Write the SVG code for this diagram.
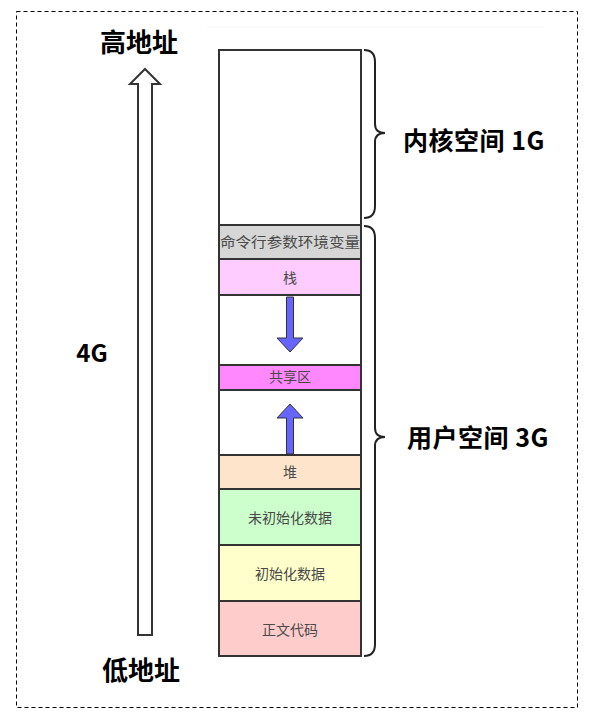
<svg xmlns="http://www.w3.org/2000/svg" width="594" height="719" viewBox="0 0 594 719">
<style>
.seg{stroke:#333;stroke-width:2}
.lbl{font-family:"Noto Sans CJK SC","Noto Sans",sans-serif;font-size:14px;fill:#4a4a4a;text-anchor:middle}
.big{font-family:"Noto Sans CJK SC","Noto Sans",sans-serif;font-weight:bold;fill:#000}
.brace{fill:none;stroke:#222;stroke-width:2}
.blue{fill:#6666ff;stroke:#333;stroke-width:1}
</style>
<rect x="16.5" y="11.5" width="561" height="696" fill="#fff" stroke="#000" stroke-width="1" stroke-dasharray="4,3"/>
<line x1="207" y1="27" x2="544" y2="27" stroke="#f6f6f6" stroke-width="1"/>
<g id="kernel"><rect class="seg" x="219" y="50" width="142" height="175" fill="#fff"/></g>
<g id="env"><rect class="seg" x="219" y="225" width="142" height="34" fill="#d6d6d6"/><text class="lbl" x="290" y="247" font-size="15" textLength="140" lengthAdjust="spacingAndGlyphs">命令行参数环境变量</text></g>
<g id="stack"><rect class="seg" x="219" y="259" width="142" height="36" fill="#ffccff"/><text class="lbl" x="290" y="283">栈</text></g>
<g id="gap1"><rect class="seg" x="219" y="295" width="142" height="70" fill="#fff"/></g>
<g id="shared"><rect class="seg" x="219" y="365" width="142" height="25" fill="#ff88ff"/><text class="lbl" x="290" y="382">共享区</text></g>
<g id="gap2"><rect class="seg" x="219" y="390" width="142" height="65" fill="#fff"/></g>
<g id="heap"><rect class="seg" x="219" y="455" width="142" height="34" fill="#ffe4cc"/><text class="lbl" x="290" y="477">堆</text></g>
<g id="bss"><rect class="seg" x="219" y="489" width="142" height="56" fill="#ccffcc"/><text class="lbl" x="290" y="523">未初始化数据</text></g>
<g id="data"><rect class="seg" x="219" y="545" width="142" height="56" fill="#ffffcc"/><text class="lbl" x="290" y="579">初始化数据</text></g>
<g id="text"><rect class="seg" x="219" y="601" width="142" height="55" fill="#ffcccc"/><text class="lbl" x="290" y="635">正文代码</text></g>
<g id="connectors">
<path class="blue" d="M286.5,297 H293.5 V338 H303 L290,352 L277,338 H286.5 Z"/>
<path class="blue" d="M286.5,454 H293.5 V418 H303 L290,404 L277,418 H286.5 Z"/>
<path d="M138,635 H152 V84 H160 L145,69 L130,84 H138 Z" fill="#fff" stroke="#333" stroke-width="2"/>
<path class="brace" d="M364,50 Q375,50 375,62 V124 Q375,133 385,133 Q375,133 375,142 V206 Q375,218 364,218"/>
<path class="brace" d="M364,226 Q375,226 375,238 V428 Q375,437 385,437 Q375,437 375,446 V644 Q375,656 364,656"/>
</g>
<g id="labels">
<text class="big" x="139" y="52" font-size="26" text-anchor="middle">高地址</text>
<text class="big" x="141" y="680" font-size="26" text-anchor="middle">低地址</text>
<text class="big" x="92" y="362" font-size="24" text-anchor="middle">4G</text>
<text class="big" x="403" y="150" font-size="25" letter-spacing="0.5">内核空间 1G</text>
<text class="big" x="407" y="447" font-size="25" letter-spacing="0.5">用户空间 3G</text>
</g>
</svg>
